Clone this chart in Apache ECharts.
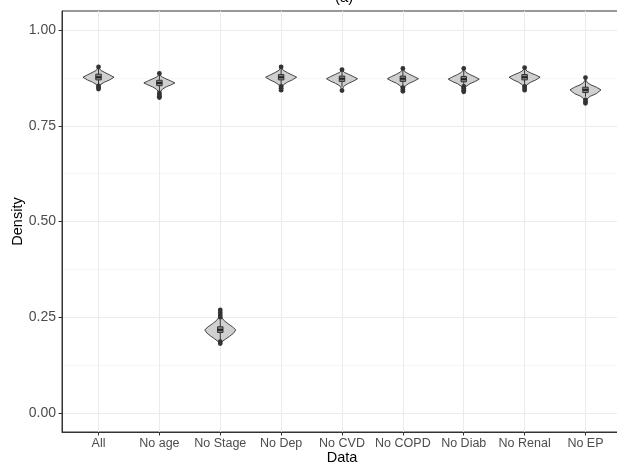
<!DOCTYPE html>
<html>
<head>
<meta charset="utf-8">
<script src="https://cdn.jsdelivr.net/npm/echarts@6/dist/echarts.min.js"></script>
<style>html,body{margin:0;padding:0;background:#fff;}#c{width:617px;height:465px;}</style>
</head>
<body>
<div id="c"></div>
<script>
const categories = ['All','No age','No Stage','No Dep','No CVD','No COPD','No Diab','No Renal','No EP'];
const categoryPositions = [1,2,3,4,5,6,7,8,9];
const yTicks = [0, 0.25, 0.5, 0.75, 1];
const yMinorTicks = [0.125, 0.375, 0.625, 0.875];

const whiskerLow  = [0.856, 0.838, 0.190, 0.856, 0.852, 0.852, 0.852, 0.856, 0.826];
const q1          = [0.870, 0.855, 0.210, 0.870, 0.866, 0.866, 0.865, 0.870, 0.837];
const medians     = [0.877, 0.862, 0.217, 0.877, 0.873, 0.873, 0.872, 0.877, 0.844];
const q3          = [0.885, 0.869, 0.225, 0.884, 0.880, 0.880, 0.879, 0.884, 0.851];
const whiskerHigh = [0.900, 0.884, 0.245, 0.900, 0.894, 0.896, 0.896, 0.898, 0.872];

const outliers = [
  [0.904, 0.854, 0.850, 0.846],
  [0.887, 0.836, 0.831, 0.827, 0.824],
  [0.269, 0.262, 0.256, 0.250, 0.186, 0.181],
  [0.904, 0.853, 0.848, 0.843],
  [0.897, 0.842],
  [0.900, 0.850, 0.845, 0.840],
  [0.900, 0.853, 0.848, 0.843, 0.839],
  [0.902, 0.853, 0.848, 0.843],
  [0.876, 0.818, 0.813, 0.809]
];

const violinY = [
  [0.846,0.852,0.858,0.864,0.870,0.877,0.883,0.889,0.895,0.900,0.904],
  [0.824,0.832,0.840,0.846,0.852,0.857,0.862,0.868,0.874,0.879,0.883,0.887],
  [0.181,0.186,0.193,0.200,0.208,0.217,0.225,0.233,0.241,0.249,0.258,0.269],
  [0.843,0.850,0.857,0.864,0.870,0.877,0.883,0.889,0.895,0.900,0.904],
  [0.842,0.849,0.855,0.861,0.867,0.873,0.879,0.885,0.890,0.894,0.897],
  [0.840,0.847,0.854,0.861,0.867,0.873,0.879,0.885,0.891,0.896,0.900],
  [0.839,0.846,0.853,0.860,0.866,0.872,0.878,0.884,0.890,0.895,0.900],
  [0.843,0.850,0.857,0.864,0.870,0.877,0.883,0.888,0.893,0.898,0.902],
  [0.809,0.815,0.821,0.827,0.834,0.844,0.851,0.857,0.863,0.869,0.876]
];
const violinDensity = [
  [0.02,0.05,0.14,0.38,0.72,1.0,0.72,0.42,0.14,0.05,0.02],
  [0.02,0.04,0.08,0.20,0.45,0.75,1.0,0.70,0.35,0.12,0.05,0.02],
  [0.03,0.12,0.35,0.60,0.85,1.0,0.78,0.50,0.25,0.10,0.05,0.02],
  [0.02,0.05,0.14,0.40,0.72,1.0,0.70,0.40,0.14,0.05,0.02],
  [0.02,0.06,0.16,0.42,0.75,1.0,0.72,0.40,0.14,0.05,0.02],
  [0.02,0.05,0.15,0.40,0.73,1.0,0.72,0.40,0.14,0.05,0.02],
  [0.02,0.05,0.15,0.40,0.74,1.0,0.72,0.40,0.14,0.05,0.02],
  [0.02,0.05,0.14,0.40,0.72,1.0,0.70,0.40,0.15,0.05,0.02],
  [0.02,0.05,0.12,0.30,0.70,1.0,0.70,0.35,0.12,0.04,0.02]
];

const FONT = 'Liberation Sans';
const VIOLIN_HALF = 0.255;
const BOX_HALF = 0.045;

const chart = echarts.init(document.getElementById('c'), null, {renderer: 'canvas'});

function renderItem(params, api) {
  const i = params.dataIndex;
  const x = api.value(0);
  const ys = violinY[i], ws = violinDensity[i];
  const pts = [];
  for (let k = 0; k < ys.length; k++) pts.push(api.coord([x - ws[k] * VIOLIN_HALF, ys[k]]));
  for (let k = ys.length - 1; k >= 0; k--) pts.push(api.coord([x + ws[k] * VIOLIN_HALF, ys[k]]));
  const children = [];
  children.push({type: 'polygon', shape: {points: pts},
    style: {fill: '#d0d0d0', stroke: '#333333', lineWidth: 0.9}});
  const wl = api.coord([x, whiskerLow[i]]), wh = api.coord([x, whiskerHigh[i]]);
  children.push({type: 'line', shape: {x1: wl[0], y1: wl[1], x2: wh[0], y2: wh[1]},
    style: {stroke: '#333333', lineWidth: 1}});
  const b1 = api.coord([x - BOX_HALF, q3[i]]), b2 = api.coord([x + BOX_HALF, q1[i]]);
  children.push({type: 'rect', shape: {x: b1[0], y: b1[1], width: b2[0] - b1[0], height: b2[1] - b1[1]},
    style: {fill: '#888888', stroke: '#333333', lineWidth: 1}});
  const m1 = api.coord([x - BOX_HALF, medians[i]]), m2 = api.coord([x + BOX_HALF, medians[i]]);
  children.push({type: 'line', shape: {x1: m1[0], y1: m1[1], x2: m2[0], y2: m2[1]},
    style: {stroke: '#222222', lineWidth: 2}});
  outliers[i].forEach(function (v) {
    const p = api.coord([x, v]);
    children.push({type: 'circle', shape: {cx: p[0], cy: p[1], r: 2.4},
      style: {fill: '#333333'}});
  });
  return {type: 'group', children: children};
}

chart.setOption({
  animation: false,
  backgroundColor: '#ffffff',
  title: {text: '(a)', left: 330, top: -15,
    textStyle: {fontFamily: FONT, fontSize: 15, fontWeight: 'normal', color: '#000'}},
  grid: {left: 62, right: -5, top: 11, bottom: 33, containLabel: false, outerBoundsMode: 'none',
    show: true, borderColor: '#333333', borderWidth: 1, backgroundColor: 'transparent'},
  xAxis: {
    type: 'value', min: 0.4, max: 9.6,
    name: 'Data', nameLocation: 'middle', nameGap: 18, nameMoveOverlap: false,
    nameTextStyle: {fontFamily: FONT, fontSize: 14.5, color: '#000'},
    axisLine: {show: true, onZero: false, lineStyle: {color: '#333333', width: 1}},
    axisTick: {show: true, length: 3.5, customValues: categoryPositions, lineStyle: {color: '#333333'}},
    axisLabel: {customValues: categoryPositions, margin: 5,
      formatter: function (v) { return categories[Math.round(v) - 1] || ''; },
      fontFamily: FONT, fontSize: 12.5, color: '#4d4d4d'},
    splitLine: {show: true, lineStyle: {color: '#ebebeb', width: 1}}
  },
  yAxis: [{
    type: 'value', min: -0.05, max: 1.05,
    name: 'Density', nameLocation: 'middle', nameGap: 37, nameRotate: 90, nameMoveOverlap: false,
    nameTextStyle: {fontFamily: FONT, fontSize: 14.5, color: '#000'},
    axisLine: {show: true, onZero: false, lineStyle: {color: '#333333', width: 1}},
    axisTick: {show: true, length: 3.5, customValues: yTicks, lineStyle: {color: '#333333'}},
    axisLabel: {customValues: yTicks, margin: 6,
      formatter: function (v) { return v.toFixed(2); },
      fontFamily: FONT, fontSize: 14, color: '#4d4d4d'},
    splitLine: {show: true, lineStyle: {color: '#ebebeb', width: 1}}
  }, {
    type: 'value', min: -0.05, max: 1.05, position: 'left',
    axisLine: {show: false, onZero: false}, axisLabel: {show: false},
    axisTick: {show: false, customValues: yMinorTicks},
    splitLine: {show: true, lineStyle: {color: '#f0f0f0', width: 0.6}}
  }],
  series: [{
    type: 'custom',
    renderItem: renderItem,
    data: categoryPositions.map(function (p) { return [p]; }),
    encode: {x: 0},
    clip: false,
    z: 5
  }]
});
</script>
</body>
</html>
